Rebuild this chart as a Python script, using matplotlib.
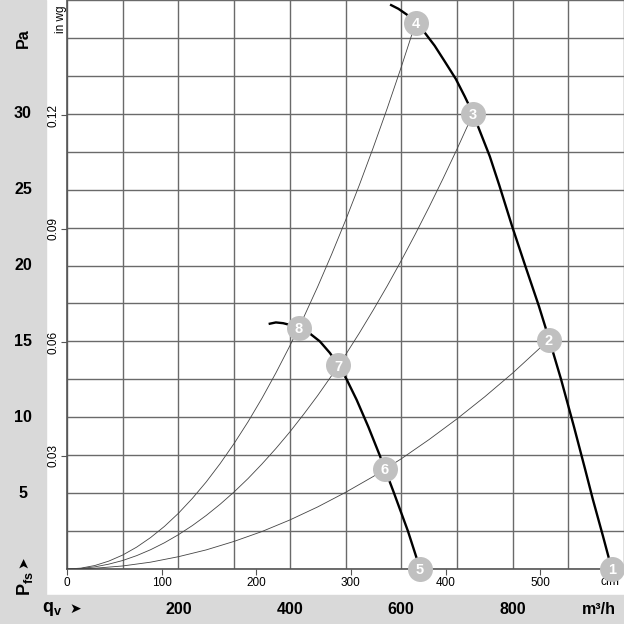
import matplotlib
matplotlib.use("Agg")
import matplotlib.pyplot as plt
from matplotlib.transforms import blended_transform_factory

plt.rcParams['font.family'] = ['Liberation Sans', 'DejaVu Sans']
plt.rcParams['mathtext.fontset'] = 'custom'
plt.rcParams['mathtext.rm'] = 'Liberation Sans'
plt.rcParams['mathtext.bf'] = 'Liberation Sans:bold'

# ---------------------------
# Data, qv in m3/h, pfs in Pa
# ---------------------------
fan_hi_q = [580, 595, 610, 626, 642, 660, 678, 698, 714, 729, 744, 759, 776,
            799, 823, 847, 866, 887, 910, 930, 944, 962, 978]
fan_hi_p = [37.2, 36.92, 36.54, 36.0, 35.36, 34.49, 33.46, 32.3, 31.15, 30.0,
            28.6, 27.2, 25.3, 22.6, 19.95, 17.35, 15.1, 12.5, 9.4, 6.6, 4.6,
            2.2, 0.0]

fan_lo_q = [362, 375, 388, 402, 416, 436, 454, 472, 487, 502, 520, 541, 562,
            586, 612, 634]
fan_lo_p = [16.15, 16.25, 16.2, 16.07, 15.9, 15.52, 15.0, 14.24, 13.45, 12.5,
            11.15, 9.37, 7.44, 5.11, 2.51, 0.0]

sys_a_q = [0, 25, 50, 100, 150, 200, 250, 300, 350, 400, 450, 500, 550, 600,
           650, 700, 750, 800, 865]
sys_a_p = [0, 0.013, 0.05, 0.2, 0.45, 0.81, 1.26, 1.82, 2.47, 3.23, 4.09, 5.05,
           6.1, 7.26, 8.53, 9.89, 11.35, 12.91, 15.1]

sys_b_q = [0, 25, 50, 75, 100, 125, 150, 175, 200, 225, 250, 275, 300, 325,
           350, 375, 400, 425, 450, 475, 500, 525, 550, 575, 600, 625, 650,
           675, 700, 729]
sys_b_p = [0, 0.035, 0.14, 0.32, 0.56, 0.88, 1.27, 1.73, 2.26, 2.86, 3.53,
           4.27, 5.08, 5.96, 6.92, 7.94, 9.03, 10.2, 11.43, 12.74, 14.11,
           15.56, 17.08, 18.66, 20.32, 22.05, 23.85, 25.72, 27.66, 30.0]

sys_c_q = [0, 25, 50, 75, 100, 125, 150, 175, 200, 225, 250, 275, 300, 325,
           350, 375, 400, 425, 450, 475, 500, 525, 550, 575, 600, 626]
sys_c_p = [0, 0.057, 0.23, 0.52, 0.92, 1.44, 2.07, 2.81, 3.67, 4.65, 5.74,
           6.95, 8.27, 9.7, 11.25, 12.92, 14.7, 16.59, 18.6, 20.73, 22.97,
           25.32, 27.79, 30.37, 33.07, 36.0]

point_q = [978, 865, 729, 626, 634, 571, 487, 416]
point_p = [0.0, 15.1, 30.0, 36.0, 0.0, 6.6, 13.42, 15.9]
point_lbl = ['1', '2', '3', '4', '5', '6', '7', '8']

pa_ticks = [5, 10, 15, 20, 25, 30]
inwg_ticks = [0.03, 0.06, 0.09, 0.12]
m3h_ticks = [200, 400, 600, 800]
cfm_ticks = [0, 100, 200, 300, 400, 500]

PA_PER_INWG = 249.089
M3H_PER_CFM = 1.69901

W = H = 624
band = '#d9d9d9'
grid_c = '#6a6a6a'

fig = plt.figure(figsize=(6.24, 6.24), dpi=100)

# gray bands (behind everything)
fig.patches.append(plt.Rectangle((0, 0), 1, 29 / H, transform=fig.transFigure,
                                 color=band, zorder=-1))
fig.patches.append(plt.Rectangle((0, 0), 46 / W, 1, transform=fig.transFigure,
                                 color=band, zorder=-1))

ax = fig.add_axes([67 / W, 55 / H, 557 / W, 569 / H])
ax.set_xlim(0, 1000)
ax.set_ylim(0, 37.5)
ax.patch.set_alpha(0)

ax.set_xticks(range(0, 1001, 100))
ax.set_yticks([i * 2.5 for i in range(16)])
ax.grid(True, color=grid_c, lw=1.0)
ax.tick_params(axis='both', length=0, labelbottom=False, labelleft=False)
for s in ['top', 'right']:
    ax.spines[s].set_visible(False)
for s in ['left', 'bottom']:
    ax.spines[s].set_color('#555555')
    ax.spines[s].set_linewidth(1.2)

# system curves
for q, p in [(sys_a_q, sys_a_p), (sys_b_q, sys_b_p), (sys_c_q, sys_c_p)]:
    ax.plot(q, p, color='#444444', lw=0.6, zorder=3)

# fan curves
ax.plot(fan_hi_q, fan_hi_p, color='black', lw=1.7, zorder=4,
        solid_capstyle='butt')
ax.plot(fan_lo_q, fan_lo_p, color='black', lw=1.7, zorder=4,
        solid_capstyle='butt')

# numbered points
ax.plot(point_q, point_p, 'o', ms=18, color='#c0c0c0', mec='none',
        zorder=5, clip_on=False)
for q, p, t in zip(point_q, point_p, point_lbl):
    ax.text(q, p, t, color='white', fontsize=10.5, fontweight='bold',
            ha='center', va='center_baseline', zorder=6, clip_on=False)

# in wg axis
sec_y = ax.secondary_yaxis('left', functions=(lambda p: p / PA_PER_INWG,
                                              lambda w: w * PA_PER_INWG))
sec_y.set_yticks(inwg_ticks)
sec_y.set_yticklabels([f'{v:.2f}' for v in inwg_ticks], rotation=90,
                      va='center', fontsize=8.5)
sec_y.tick_params(length=4, width=0.8, color='#555555', pad=1.5)
sec_y.spines['left'].set_visible(False)

# cfm axis
sec_x = ax.secondary_xaxis('bottom', functions=(lambda q: q / M3H_PER_CFM,
                                                lambda c: c * M3H_PER_CFM))
sec_x.set_xticks(cfm_ticks)
sec_x.set_xticklabels([str(v) for v in cfm_ticks], fontsize=8.5)
sec_x.tick_params(length=4, width=0.8, color='#555555', pad=1.5)
sec_x.spines['bottom'].set_visible(False)
ax.text(975, -0.85, 'cfm', fontsize=8.5, ha='center', va='center', zorder=2,
        clip_on=False)
ax.text(-11, 36.2, 'in wg', fontsize=8.5, rotation=90, ha='center',
        va='center', clip_on=False)

# Pa labels in the left band
tr_y = blended_transform_factory(fig.transFigure, ax.transData)
for v in pa_ticks:
    ax.text(23 / W, v, str(v), transform=tr_y, fontsize=11.5,
            fontweight='bold', ha='center', va='center', clip_on=False)
ax.text(23 / W, 35, 'Pa', transform=tr_y, fontsize=11.5, fontweight='bold',
        rotation=90, ha='center', va='center', clip_on=False)

# m3/h labels in the bottom band
tr_x = blended_transform_factory(ax.transData, fig.transFigure)
for v in m3h_ticks:
    ax.text(v, 15 / H, str(v), transform=tr_x, fontsize=11.5,
            fontweight='bold', ha='center', va='center', clip_on=False)
fig.text(599 / W, 15 / H, 'm³/h', fontsize=11.5, fontweight='bold',
         ha='center', va='center')

# axis names
fig.text(25 / W, 40 / H, r'$\mathbf{P}_{\mathbf{fs}}$', fontsize=13,
         rotation=90, ha='center', va='center')
fig.text(23 / W, 62 / H, '➤', fontsize=10, rotation=90, ha='center',
         va='center', family=['DejaVu Sans'])
fig.text(52 / W, 15 / H, r'$\mathbf{q}_{\mathbf{v}}$', fontsize=13,
         ha='center', va='center')
fig.text(75 / W, 15 / H, '➤', fontsize=10, ha='center', va='center',
         family=['DejaVu Sans'])

fig.savefig('out.png', dpi=100)
